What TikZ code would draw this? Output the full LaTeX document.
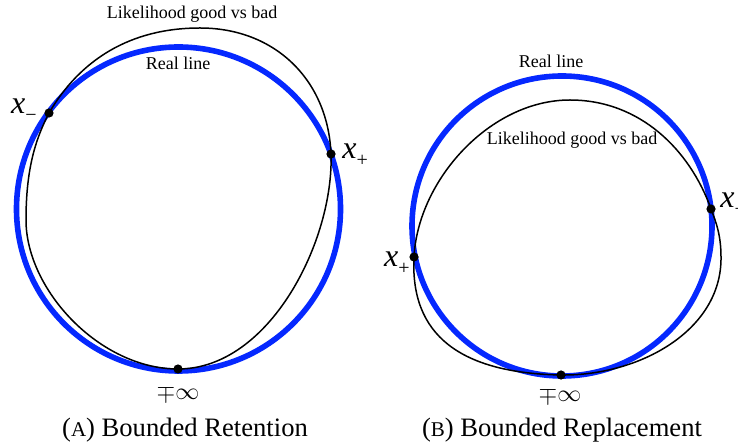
\documentclass[tikz,border=0pt]{standalone}
\usepackage{fontspec}
\setmainfont{Liberation Serif}
\definecolor{realblue}{RGB}{5,40,255}
\tikzset{
  realline/.style={draw=realblue, line width=2.8pt},
  likeline/.style={draw=black, line width=0.75pt},
  dot/.style={circle, fill=black, inner sep=0pt, minimum size=4.6pt},
  lbl/.style={inner sep=0pt, font=\fontsize{9}{10}\selectfont},
  ptlbl/.style={inner sep=0pt, font=\fontsize{16}{16}\selectfont},
  inflbl/.style={inner sep=0pt, font=\fontsize{12.5}{12.5}\selectfont},
  caplbl/.style={inner sep=0pt, font=\fontsize{13.3}{14}\selectfont}
}
\newcommand{\xlab}[1]{\textit{x}\raisebox{-0.5ex}{\fontsize{10}{10}\selectfont #1}}
\begin{document}
\begin{tikzpicture}[x=0.5pt, y=-0.5pt]
\useasboundingbox (0,0) rectangle (738,448);
% ---------- panel A ----------
\coordinate (Axm) at (49,113);
\coordinate (Axp) at (331,154);
\coordinate (Ainf) at (178,369);
\coordinate (Atop) at (200,28);
\coordinate (Aleft) at (26,220);
\draw[realline] (178.5,209) circle[radius=162];
\draw[likeline] (Axm) .. controls (80,60) and (130,28) .. (Atop)
  .. controls (275,28) and (328,80) .. (Axp)
  .. controls (334,240) and (270,369) .. (Ainf)
  .. controls (100,369) and (26,290) .. (Aleft)
  .. controls (26,170) and (35,140) .. (Axm) -- cycle;
\node[dot] (Adxm) at (Axm) {};
\node[dot] (Adxp) at (Axp) {};
\node[dot] (Adinf) at (Ainf) {};
\node[lbl] (Alike) at (192,14) {Likelihood good vs bad};
\node[lbl] (Areal) at (178,63) {Real line};
\node[ptlbl, anchor=east] (Alxm) at (37,110) {\xlab{−}};
\node[ptlbl, anchor=west] (Alxp) at (342,155) {\xlab{+}};
\node[inflbl] (Alinf) at (178,393) {$\mp\infty$};
\node[caplbl] (Acap) at (185,430) {({\fontsize{10.5}{12}\selectfont A}) Bounded Retention};
% ---------- panel B ----------
\coordinate (Bxm) at (711,209);
\coordinate (Bxp) at (414,257);
\coordinate (Binf) at (561,375);
\coordinate (Bright) at (721,257);
\coordinate (Btop) at (570,100);
\draw[realline] (562,226) circle[radius=150];
\draw[likeline] (Bxp) .. controls (410,335) and (460,373) .. (Binf)
  .. controls (640,376) and (722,330) .. (Bright)
  .. controls (721,235) and (716,222) .. (Bxm)
  .. controls (690,150) and (640,100) .. (Btop)
  .. controls (490,100) and (418,180) .. (Bxp) -- cycle;
\node[dot] (Bdxm) at (Bxm) {};
\node[dot] (Bdxp) at (Bxp) {};
\node[dot] (Bdinf) at (Binf) {};
\node[lbl] (Breal) at (551,61) {Real line};
\node[lbl] (Blike) at (572,140) {Likelihood good vs bad};
\node[ptlbl, anchor=west] (Blxm) at (720,204) {\xlab{−}};
\node[ptlbl, anchor=east] (Blxp) at (410,263) {\xlab{+}};
\node[inflbl] (Blinf) at (560,395) {$\mp\infty$};
\node[caplbl] (Bcap) at (562,430) {({\fontsize{10.5}{12}\selectfont B}) Bounded Replacement};
\end{tikzpicture}
\end{document}
